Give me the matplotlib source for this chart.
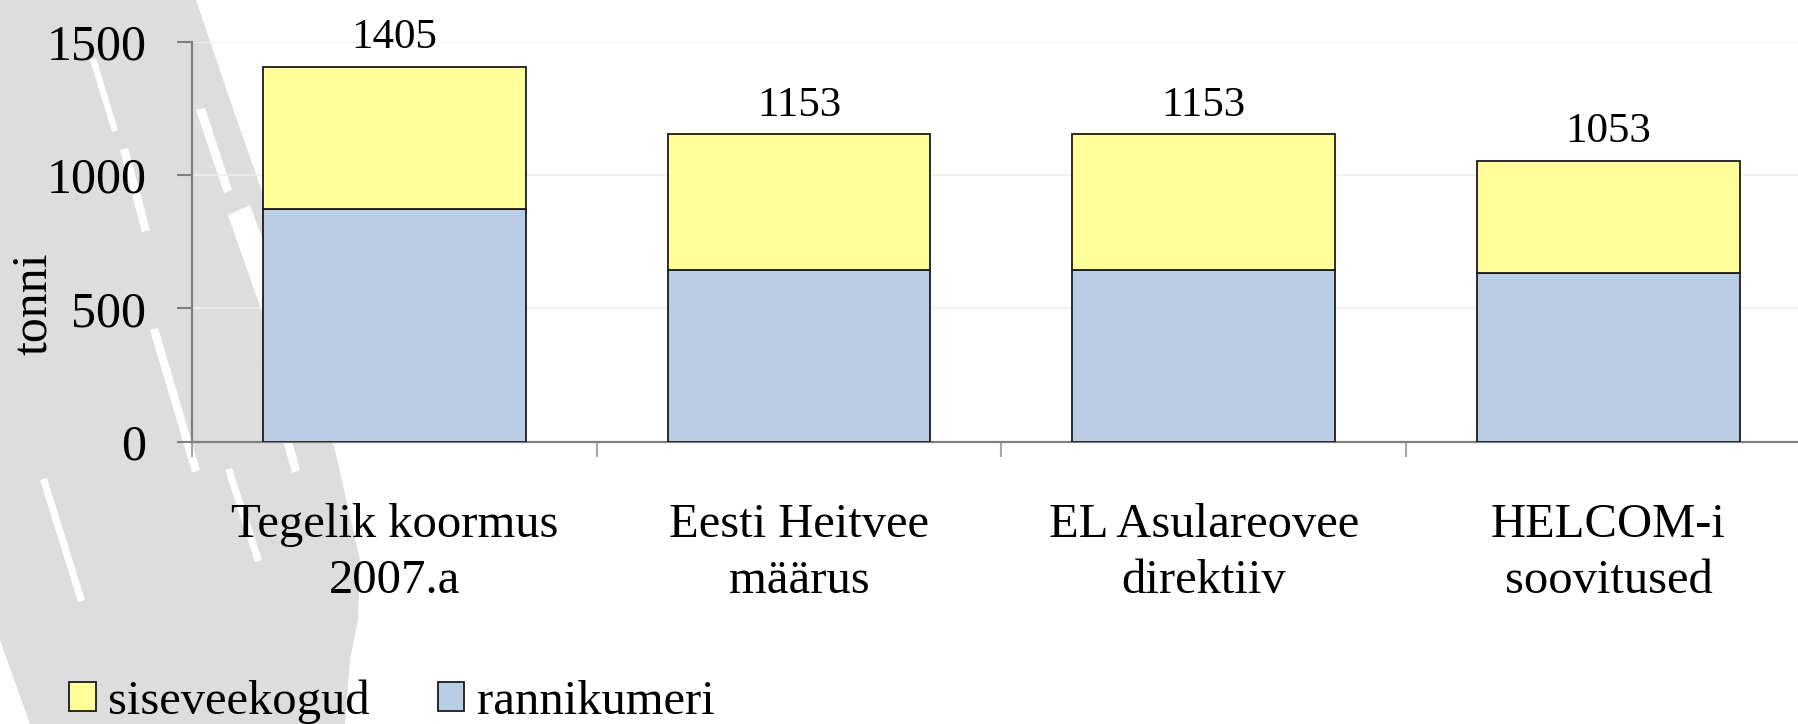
import matplotlib
matplotlib.use("Agg")
import matplotlib.pyplot as plt
from matplotlib.patches import Polygon
import numpy as np

plt.rcParams['font.family'] = ['Liberation Serif', 'DejaVu Serif']

categories = ["Tegelik koormus\n2007.a", "Eesti Heitvee\nmäärus", "EL Asulareovee\ndirektiiv", "HELCOM-i\nsoovitused"]
rannikumeri = [872, 644, 644, 634]
siseveekogud = [533, 509, 509, 419]
totals = [1405, 1153, 1153, 1053]
yticks = [0, 500, 1000, 1500]

W, H = 1798, 724
fig = plt.figure(figsize=(W / 100, H / 100), dpi=100)
fig.patch.set_facecolor("white")


def px(pts):
    return [(x / W, 1 - y / H) for x, y in pts]


# decorative grey background shape (pixel coords, y down)
bg = [(0, 0), (196, 0), (230, 100), (265, 200), (300, 350), (335, 450), (360, 560),
      (358, 620), (350, 660), (345, 724), (30, 724), (0, 640)]
fig.patches.append(Polygon(px(bg), closed=True, transform=fig.transFigure,
                           facecolor="#dddddd", edgecolor="none", zorder=-10))
# a few white streaks in the decoration
streaks = [
    [(196, 110), (205, 108), (232, 190), (224, 193)],
    [(228, 215), (250, 205), (285, 300), (262, 312)],
    [(150, 330), (158, 328), (200, 470), (192, 472)],
    [(262, 365), (270, 362), (300, 470), (292, 473)],
    [(120, 150), (128, 148), (150, 230), (142, 232)],
    [(40, 480), (47, 478), (85, 600), (78, 602)],
    [(225, 470), (232, 468), (262, 560), (255, 562)],
    [(90, 60), (96, 58), (118, 130), (112, 132)],
]
for s in streaks:
    fig.patches.append(Polygon(px(s), closed=True, transform=fig.transFigure,
                               facecolor="white", edgecolor="none", zorder=-9))

ax = fig.add_axes([192 / W, 1 - 441.7 / H, 1618.8 / W, 400 / H])
ax.set_facecolor("none")

x = np.arange(len(categories)) + 0.5
bw = 0.649
b1 = ax.bar(x, rannikumeri, bw, color="#B9CDE5", edgecolor="#1a1a1a", linewidth=1.3,
            label="rannikumeri", zorder=3)
b2 = ax.bar(x, siseveekogud, bw, bottom=rannikumeri, color="#FFFF99", edgecolor="#1a1a1a",
            linewidth=1.3, label="siseveekogud", zorder=3)

for xi, t in zip(x, totals):
    ax.annotate(str(t), (xi, t), xytext=(0, 7), textcoords="offset points",
                ha="center", va="bottom", fontsize=31, annotation_clip=False)

ax.set_xlim(0, len(categories))
ax.set_ylim(0, 1500)
ax.set_yticks(yticks)
ax.set_yticklabels([str(v) for v in yticks])
ax.yaxis.grid(True, color="#eeeeee", linewidth=1.2, zorder=0)
ax.set_axisbelow(True)

ax.set_xticks(np.arange(len(categories) + 1))
ax.set_xticklabels([])
ax.set_xticks(x, minor=True)
ax.set_xticklabels(categories, minor=True, fontsize=35, linespacing=1.37)
ax.tick_params(axis="x", which="major", length=11, width=1.5, color="#a6a6a6", direction="out")
ax.tick_params(axis="x", which="minor", length=0, pad=44)
ax.tick_params(axis="y", length=11, width=1.5, color="#808080", direction="out",
               labelsize=36, pad=22)

for s in ["top", "right"]:
    ax.spines[s].set_visible(False)
for s in ["left", "bottom"]:
    ax.spines[s].set_color("#808080")
    ax.spines[s].set_linewidth(1.6)

fig.text(34 / W, 1 - 304 / H, "tonni", rotation=90, ha="center", va="center", fontsize=36)

fig.legend(handles=[b2, b1], labels=["siseveekogud", "rannikumeri"], loc="lower left",
           bbox_to_anchor=(0.0384, 0.0), ncol=2, frameon=False, fontsize=35,
           handlelength=0.55, handleheight=0.55, handletextpad=0.25, columnspacing=1.4,
           borderpad=0, borderaxespad=0)

fig.savefig("out.png", dpi=100, facecolor="white")
